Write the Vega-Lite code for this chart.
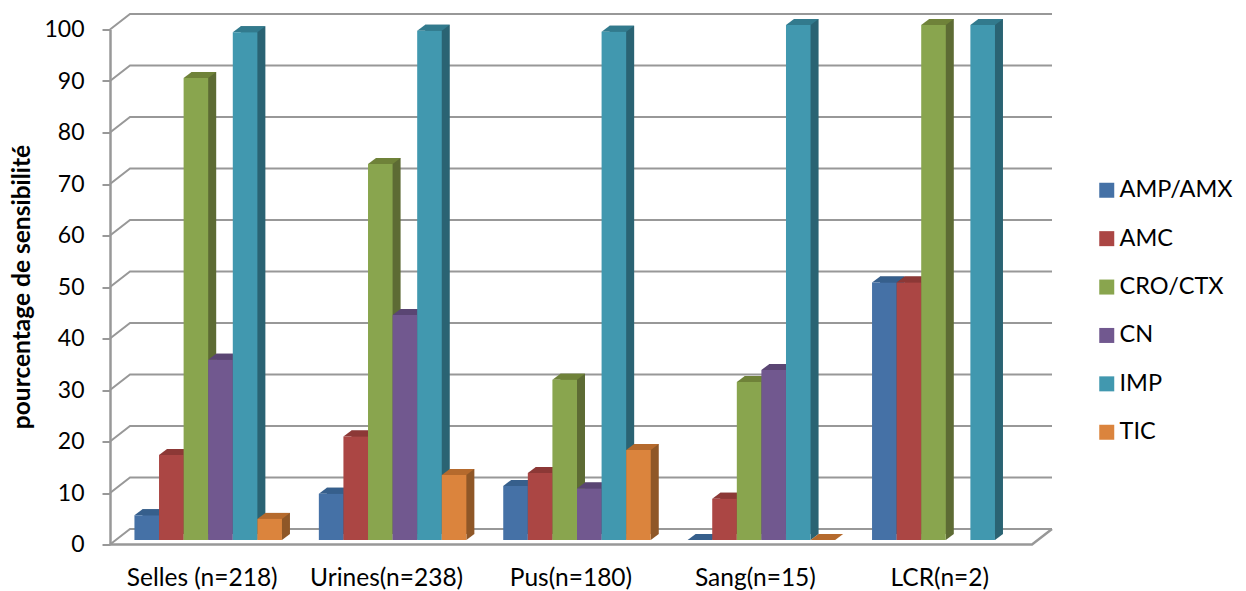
{
  "$schema": "https://vega.github.io/schema/vega-lite/v6.json",
  "width": 922,
  "height": 515,
  "autosize": "none",
  "padding": {"left": 110, "top": 29.5, "right": 214, "bottom": 46.5},
  "background": "white",
  "config": {"view": {"stroke": null}, "font": "Lato"},
  "datasets": {
    "mesures": [
      {"site": "Selles (n=218)", "antibiotique": "AMP/AMX", "pct": 4.8},
      {"site": "Selles (n=218)", "antibiotique": "AMC", "pct": 16.5},
      {"site": "Selles (n=218)", "antibiotique": "CRO/CTX", "pct": 89.7},
      {"site": "Selles (n=218)", "antibiotique": "CN", "pct": 35},
      {"site": "Selles (n=218)", "antibiotique": "IMP", "pct": 98.6},
      {"site": "Selles (n=218)", "antibiotique": "TIC", "pct": 4.1},
      {"site": "Urines(n=238)", "antibiotique": "AMP/AMX", "pct": 9},
      {"site": "Urines(n=238)", "antibiotique": "AMC", "pct": 20.1},
      {"site": "Urines(n=238)", "antibiotique": "CRO/CTX", "pct": 73},
      {"site": "Urines(n=238)", "antibiotique": "CN", "pct": 43.7},
      {"site": "Urines(n=238)", "antibiotique": "IMP", "pct": 98.9},
      {"site": "Urines(n=238)", "antibiotique": "TIC", "pct": 12.6},
      {"site": "Pus(n=180)", "antibiotique": "AMP/AMX", "pct": 10.5},
      {"site": "Pus(n=180)", "antibiotique": "AMC", "pct": 13},
      {"site": "Pus(n=180)", "antibiotique": "CRO/CTX", "pct": 31.1},
      {"site": "Pus(n=180)", "antibiotique": "CN", "pct": 10},
      {"site": "Pus(n=180)", "antibiotique": "IMP", "pct": 98.7},
      {"site": "Pus(n=180)", "antibiotique": "TIC", "pct": 17.5},
      {"site": "Sang(n=15)", "antibiotique": "AMP/AMX", "pct": 0},
      {"site": "Sang(n=15)", "antibiotique": "AMC", "pct": 8},
      {"site": "Sang(n=15)", "antibiotique": "CRO/CTX", "pct": 30.7},
      {"site": "Sang(n=15)", "antibiotique": "CN", "pct": 33},
      {"site": "Sang(n=15)", "antibiotique": "IMP", "pct": 100},
      {"site": "Sang(n=15)", "antibiotique": "TIC", "pct": 0},
      {"site": "LCR(n=2)", "antibiotique": "AMP/AMX", "pct": 50},
      {"site": "LCR(n=2)", "antibiotique": "AMC", "pct": 50},
      {"site": "LCR(n=2)", "antibiotique": "CRO/CTX", "pct": 100},
      {"site": "LCR(n=2)", "antibiotique": "IMP", "pct": 100}
    ],
    "graduations": [
      {"niveau": 0}, {"niveau": 10}, {"niveau": 20}, {"niveau": 30}, {"niveau": 40}, {"niveau": 50},
      {"niveau": 60}, {"niveau": 70}, {"niveau": 80}, {"niveau": 90}, {"niveau": 100}
    ]
  },
  "resolve": {"scale": {"color": "independent", "x": "independent", "y": "independent", "xOffset": "independent"}},
  "layer": [
    {
      "description": "Back wall lines, each with its slanted run along the side wall",
      "data": {"name": "graduations"},
      "mark": {"type": "point", "filled": false, "size": 4, "opacity": 1, "stroke": "#989898", "strokeWidth": 2, "shape": "M0,0L20,-15.5L942,-15.5"},
      "encoding": {
        "x": {"value": 0},
        "y": {
          "field": "niveau", "type": "quantitative",
          "scale": {"domain": [0, 100], "nice": false},
          "axis": {
            "title": "pourcentage de sensibilité",
            "titleFontSize": 24.5, "titleFontWeight": "bold", "titleColor": "#000000", "titleFont": "Lato",
            "titleX": -76, "titleY": 257,
            "values": [0, 10, 20, 30, 40, 50, 60, 70, 80, 90, 100],
            "grid": false, "domainColor": "#989898", "domainWidth": 2.5,
            "tickColor": "#989898", "tickWidth": 2, "tickSize": 8,
            "labelFontSize": 23, "labelColor": "#000000", "labelPadding": 18
          }
        }
      }
    },
    {
      "description": "Floor front edge and right corner",
      "data": {"values": [{"niveau": 0}]},
      "mark": {"type": "point", "filled": false, "size": 4, "opacity": 1, "stroke": "#989898", "strokeWidth": 2.5, "shape": "M0,0L922,0L942,-15.5"},
      "encoding": {
        "x": {"value": 0},
        "y": {"field": "niveau", "type": "quantitative", "scale": {"domain": [0, 100], "nice": false}, "axis": null}
      }
    },
    {
      "description": "Side and rear of each bar, darkest shade, one depth step behind the front plane",
      "data": {"name": "mesures"},
      "mark": {"type": "bar"},
      "encoding": {
        "x": {
          "field": "site", "type": "nominal", "sort": null, "axis": null,
          "scale": {"paddingInner": 0.2, "paddingOuter": 0.1, "range": [14, 936]}
        },
        "xOffset": {"field": "antibiotique", "type": "nominal", "sort": null, "scale": {"domain": ["AMP/AMX", "AMC", "CRO/CTX", "CN", "IMP", "TIC"]}},
        "y": {"field": "pct", "type": "quantitative", "stack": null, "axis": null, "scale": {"domain": [0, 100], "nice": false, "range": [504.5, -10.5]}},
        "color": {
          "field": "antibiotique", "type": "nominal", "legend": null,
          "scale": {"domain": ["AMP/AMX", "AMC", "CRO/CTX", "CN", "IMP", "TIC"], "range": ["#2C5075", "#7A302F", "#5D6B34", "#4C3B62", "#2A6373", "#8F5727"]}
        }
      }
    },
    {
      "description": "Foot of the side face",
      "data": {"name": "mesures"},
      "transform": [{"filter": "datum.pct > 0"}],
      "mark": {"type": "point", "filled": true, "size": 4, "opacity": 1, "shape": "M12.3,0L20.3,-6L12.3,-6Z"},
      "encoding": {
        "x": {"field": "site", "type": "nominal", "sort": null, "axis": null, "scale": {"paddingInner": 0.2, "paddingOuter": 0.1, "range": [6, 928]}},
        "xOffset": {"field": "antibiotique", "type": "nominal", "sort": null, "scale": {"domain": ["AMP/AMX", "AMC", "CRO/CTX", "CN", "IMP", "TIC"]}},
        "y": {"datum": 0, "type": "quantitative", "axis": null, "scale": {"domain": [0, 100], "nice": false, "range": [510.5, -4.5]}},
        "color": {
          "field": "antibiotique", "type": "nominal", "legend": null,
          "scale": {"domain": ["AMP/AMX", "AMC", "CRO/CTX", "CN", "IMP", "TIC"], "range": ["#2C5075", "#7A302F", "#5D6B34", "#4C3B62", "#2A6373", "#8F5727"]}
        }
      }
    },
    {
      "description": "Top face of each bar, middle shade",
      "data": {"name": "mesures"},
      "mark": {"type": "point", "filled": true, "size": 4, "opacity": 1, "shape": "M-12.3,0L-4.3,-6L20.3,-6L12.3,0Z"},
      "encoding": {
        "x": {"field": "site", "type": "nominal", "sort": null, "axis": null, "scale": {"paddingInner": 0.2, "paddingOuter": 0.1, "range": [6, 928]}},
        "xOffset": {"field": "antibiotique", "type": "nominal", "sort": null, "scale": {"domain": ["AMP/AMX", "AMC", "CRO/CTX", "CN", "IMP", "TIC"]}},
        "y": {"field": "pct", "type": "quantitative", "axis": null, "scale": {"domain": [0, 100], "nice": false, "range": [510.5, -4.5]}},
        "color": {
          "field": "antibiotique", "type": "nominal", "legend": null,
          "scale": {"domain": ["AMP/AMX", "AMC", "CRO/CTX", "CN", "IMP", "TIC"], "range": ["#365F8C", "#8C3836", "#6F8239", "#5A4573", "#327A8D", "#B56A2D"]}
        }
      }
    },
    {
      "description": "Front face of each bar, carries the site axis and the legend",
      "data": {"name": "mesures"},
      "mark": {"type": "bar"},
      "encoding": {
        "x": {
          "field": "site", "type": "nominal", "sort": null,
          "scale": {"paddingInner": 0.2, "paddingOuter": 0.1, "range": [6, 928]},
          "axis": {"title": null, "orient": "bottom", "domain": false, "ticks": false, "labelAngle": 0, "labelFontSize": 24.5, "labelColor": "#000000", "labelPadding": 21.5, "labelOffset": -6, "labelLimit": 300, "zindex": 0}
        },
        "xOffset": {"field": "antibiotique", "type": "nominal", "sort": null, "scale": {"domain": ["AMP/AMX", "AMC", "CRO/CTX", "CN", "IMP", "TIC"]}},
        "y": {"field": "pct", "type": "quantitative", "stack": null, "axis": null, "scale": {"domain": [0, 100], "nice": false, "range": [510.5, -4.5]}},
        "color": {
          "field": "antibiotique", "type": "nominal",
          "scale": {"domain": ["AMP/AMX", "AMC", "CRO/CTX", "CN", "IMP", "TIC"], "range": ["#4571A6", "#AB4644", "#89A54E", "#71588F", "#4198AF", "#DB843D"]},
          "legend": {
            "orient": "none", "legendX": 985, "legendY": 149, "title": null,
            "symbolType": "square", "symbolSize": 225, "symbolStrokeWidth": 0,
            "labelFontSize": 23.5, "labelColor": "#000000", "labelOffset": 1, "rowPadding": 23.4, "labelLimit": 200
          }
        }
      }
    }
  ]
}
